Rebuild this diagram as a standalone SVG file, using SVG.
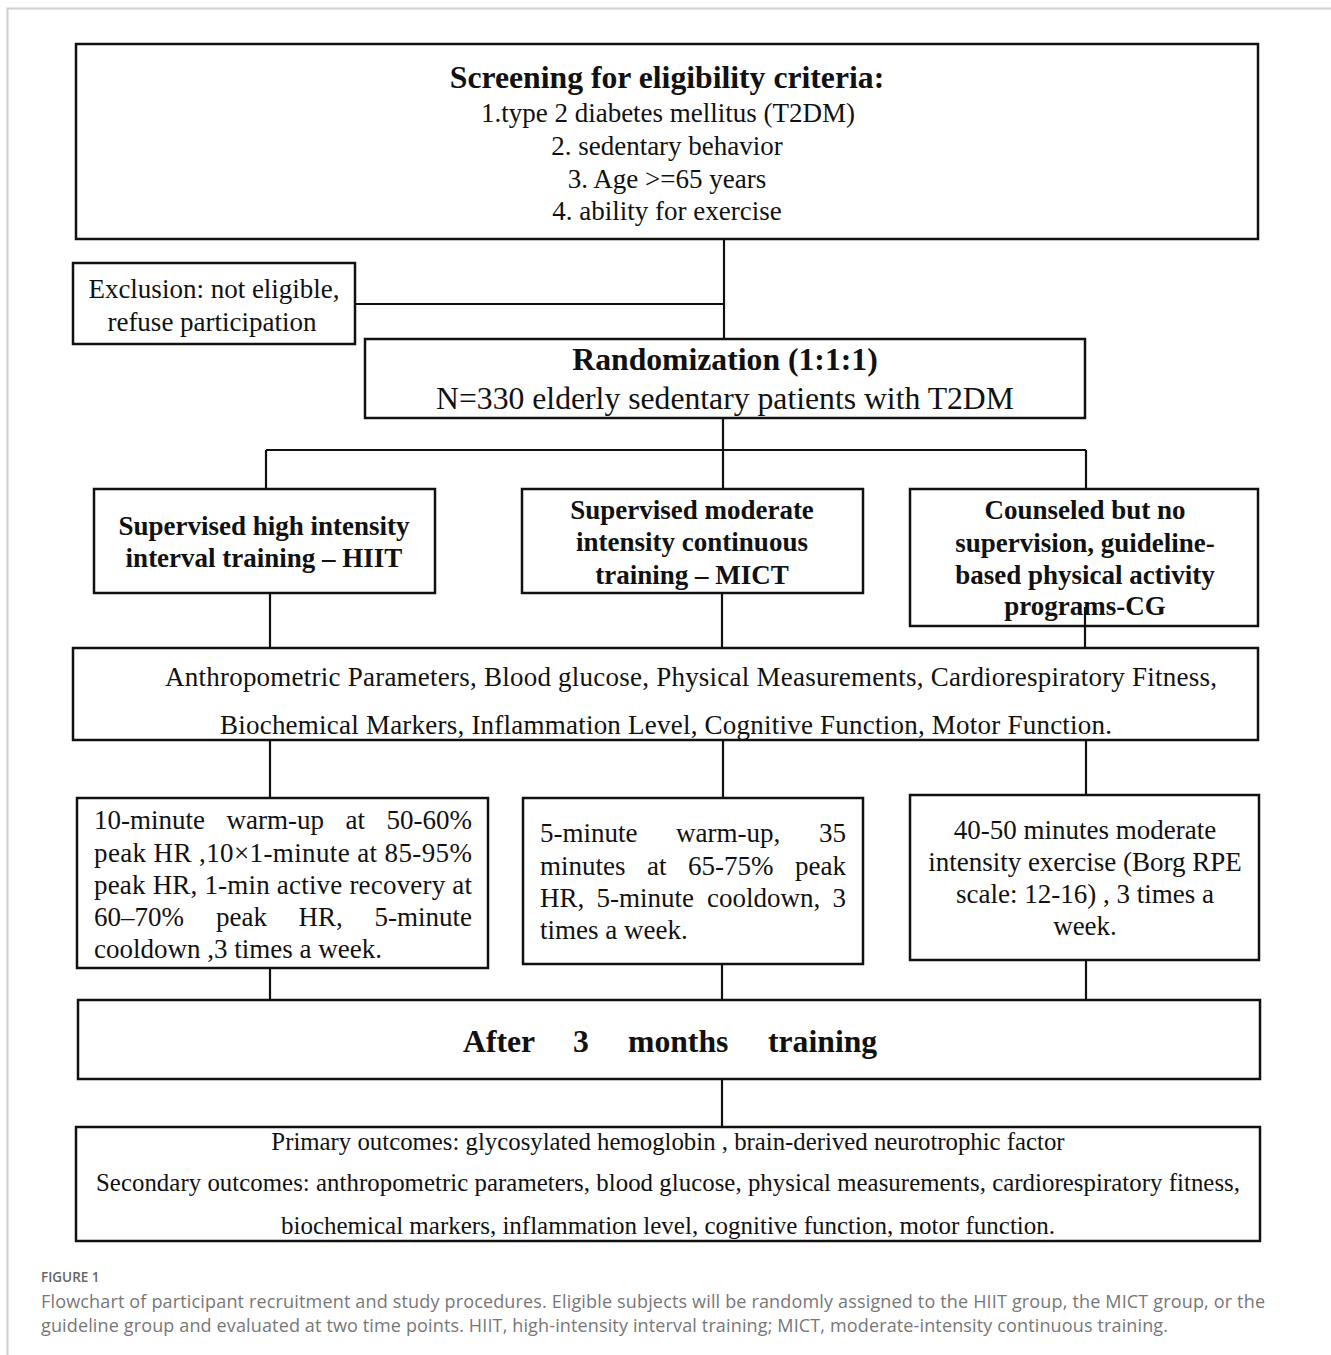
<svg xmlns="http://www.w3.org/2000/svg" width="1331" height="1355" viewBox="0 0 1331 1355">
<style>
.box{fill:#fff;stroke:#111;stroke-width:2.5}
.ln{stroke:#111;stroke-width:2.2;fill:none}
.t{font-family:"Liberation Serif","Times New Roman",serif;fill:#111}
.b{font-weight:bold}
.c{text-anchor:middle}
.e{text-anchor:end}
.s27{font-size:27px}
.s31{font-size:31.7px}
.cap{font-family:"Open Sans","Liberation Sans",sans-serif;fill:#777;font-size:18px}
</style>
<rect x="0" y="0" width="1331" height="1355" fill="#fff"/>
<path d="M7.5,1355 V8.5 H1331" fill="none" stroke="#d0d0d0" stroke-width="2"/>

<g id="connectors">
<path class="ln" d="M724,239 V339"/>
<path class="ln" d="M355,304 H724"/>
<path class="ln" d="M723,418 V450"/>
<path class="ln" d="M266,450 H1086"/>
<path class="ln" d="M266,450 V489"/>
<path class="ln" d="M723,450 V489"/>
<path class="ln" d="M1086,450 V489"/>
<path class="ln" d="M270,593 V648"/>
<path class="ln" d="M722,593 V648"/>
<path class="ln" d="M1085,607 V648"/>
<path class="ln" d="M270,740 V798"/>
<path class="ln" d="M723,740 V798"/>
<path class="ln" d="M1086,740 V795"/>
<path class="ln" d="M270,968 V1000"/>
<path class="ln" d="M722,964 V1000"/>
<path class="ln" d="M1086,960 V1000"/>
<path class="ln" d="M722,1079 V1127"/>
</g>

<g id="screening">
<rect class="box" x="76" y="44" width="1182" height="195"/>
<text class="t b c s31" x="667" y="88">Screening for eligibility criteria:</text>
<text class="t c s27" x="668" y="122">1.type 2 diabetes mellitus (T2DM)</text>
<text class="t c s27" x="667" y="155">2. sedentary behavior</text>
<text class="t c s27" x="667" y="188">3. Age &gt;=65 years</text>
<text class="t c s27" x="667" y="220">4. ability for exercise</text>
</g>

<g id="exclusion">
<rect class="box" x="73" y="263" width="282" height="81"/>
<text class="t c s27" x="214" y="298">Exclusion: not eligible,</text>
<text class="t c s27" x="212" y="331">refuse participation</text>
</g>

<g id="randomization">
<rect class="box" x="365" y="339" width="720" height="79"/>
<text class="t b c s31" x="725" y="370">Randomization (1:1:1)</text>
<text class="t c s31" x="725" y="409">N=330 elderly sedentary patients with T2DM</text>
</g>

<g id="hiit">
<rect class="box" x="94" y="489" width="341" height="104"/>
<text class="t b c s27" x="264" y="535">Supervised high intensity</text>
<text class="t b c s27" x="264" y="567">interval training – HIIT</text>
</g>

<g id="mict">
<rect class="box" x="522" y="489" width="341" height="104"/>
<text class="t b c s27" x="692" y="519">Supervised moderate</text>
<text class="t b c s27" x="692" y="551">intensity continuous</text>
<text class="t b c s27" x="692" y="584">training – MICT</text>
</g>

<g id="cg">
<rect class="box" x="910" y="489" width="348" height="137"/>
<text class="t b c s27" x="1085" y="519">Counseled but no</text>
<text class="t b c s27" x="1085" y="552">supervision, guideline-</text>
<text class="t b c s27" x="1085" y="584">based physical activity</text>
<text class="t b c s27" x="1085" y="615">programs-CG</text>
</g>
<path class="ln" d="M1085,607 V626"/>

<g id="measurements">
<rect class="box" x="73" y="648" width="1185" height="92"/>
<text class="t s27" x="165" y="686" textLength="1052" lengthAdjust="spacing">Anthropometric Parameters, Blood glucose, Physical Measurements, Cardiorespiratory Fitness,</text>
<text class="t s27" x="220" y="734" textLength="892" lengthAdjust="spacing">Biochemical Markers, Inflammation Level, Cognitive Function, Motor Function.</text>
</g>

<g id="hiit-protocol">
<rect class="box" x="77" y="798" width="411" height="170"/>
<text class="t s27" y="829"><tspan x="94">10-minute</tspan><tspan x="226.5">warm-up</tspan><tspan x="345.5">at</tspan></text>
<text class="t s27 e" x="472" y="829">50-60%</text>
<text class="t s27" x="94" y="862" textLength="378" lengthAdjust="spacing">peak HR ,10×1-minute at 85-95%</text>
<text class="t s27" x="94" y="894" textLength="378" lengthAdjust="spacing">peak HR, 1-min active recovery at</text>
<text class="t s27" y="926"><tspan x="94">60–70%</tspan><tspan x="216">peak</tspan><tspan x="298.5">HR,</tspan></text>
<text class="t s27 e" x="472" y="926">5-minute</text>
<text class="t s27" x="94" y="958">cooldown ,3 times a week.</text>
</g>

<g id="mict-protocol">
<rect class="box" x="523" y="798" width="340" height="166"/>
<text class="t s27" y="842"><tspan x="540">5-minute</tspan><tspan x="676">warm-up,</tspan></text>
<text class="t s27 e" x="846" y="842">35</text>
<text class="t s27" y="875"><tspan x="540">minutes</tspan><tspan x="647">at</tspan><tspan x="688">65-75%</tspan></text>
<text class="t s27 e" x="846" y="875">peak</text>
<text class="t s27" y="907"><tspan x="540">HR,</tspan><tspan x="596.5">5-minute</tspan><tspan x="707">cooldown,</tspan></text>
<text class="t s27 e" x="846" y="907">3</text>
<text class="t s27" x="540" y="939">times a week.</text>
</g>

<g id="cg-protocol">
<rect class="box" x="910" y="795" width="349" height="165"/>
<text class="t c s27" x="1085" y="839">40-50 minutes moderate</text>
<text class="t c s27" x="1085" y="871">intensity exercise (Borg RPE</text>
<text class="t c s27" x="1085" y="903">scale: 12-16) , 3 times a</text>
<text class="t c s27" x="1085" y="935">week.</text>
</g>

<g id="after">
<rect class="box" x="78" y="1000" width="1182" height="79"/>
<text class="t b s31" y="1052"><tspan x="463">After</tspan><tspan x="573">3</tspan><tspan x="628">months</tspan><tspan x="768">training</tspan></text>
</g>

<g id="outcomes">
<rect class="box" x="76" y="1127" width="1184" height="114"/>
<text class="t c" x="668" y="1150" font-size="24.8">Primary outcomes: glycosylated hemoglobin , brain-derived neurotrophic factor</text>
<text class="t" x="96" y="1191" font-size="24.8" textLength="1144" lengthAdjust="spacing">Secondary outcomes: anthropometric parameters, blood glucose, physical measurements, cardiorespiratory fitness,</text>
<text class="t c" x="668" y="1234" font-size="25">biochemical markers, inflammation level, cognitive function, motor function.</text>
</g>

<g id="caption">
<text x="41" y="1282" font-family="'Open Sans','Liberation Sans',sans-serif" font-size="13.5" font-weight="600" fill="#666">FIGURE 1</text>
<text class="cap" x="41" y="1308" textLength="1224" lengthAdjust="spacing">Flowchart of participant recruitment and study procedures. Eligible subjects will be randomly assigned to the HIIT group, the MICT group, or the</text>
<text class="cap" x="41" y="1332" textLength="1127" lengthAdjust="spacing">guideline group and evaluated at two time points. HIIT, high-intensity interval training; MICT, moderate-intensity continuous training.</text>
</g>
</svg>
